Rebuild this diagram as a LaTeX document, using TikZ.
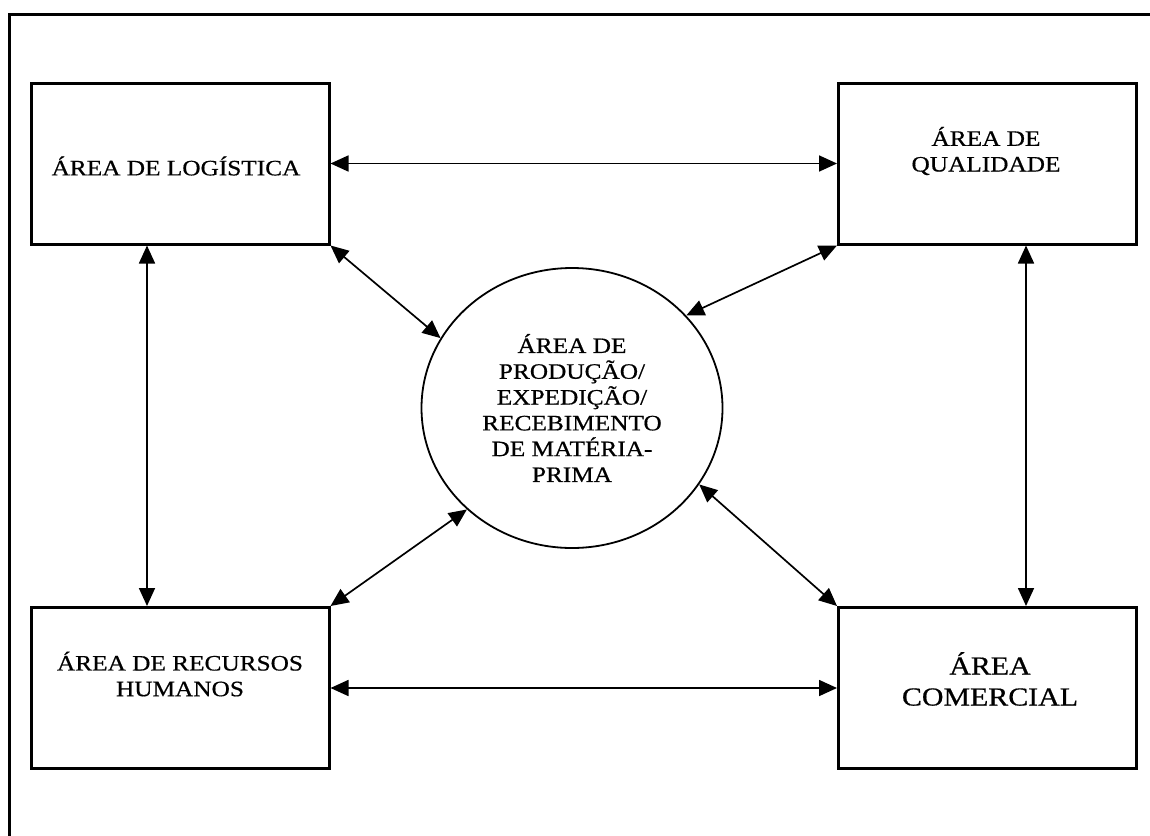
\documentclass[tikz,border=0pt]{standalone}
\usepackage{fontspec}
\usetikzlibrary{arrows.meta,shapes.geometric}
\newfontfamily\labelfont[FakeStretch=1.15,FakeBold=0.6]{Liberation Serif}

\tikzset{
  areabox/.style={draw, line width=3pt, minimum width=298pt, minimum height=161pt, inner sep=0pt},
  areatext/.style={align=center, inner sep=0pt, font=\labelfont\fontsize{22}{25.7}\selectfont},
  link/.style={line width=1.7pt, {Triangle[length=18pt,width=16pt]}-{Triangle[length=18pt,width=16pt]}},
  frameline/.style={line width=3pt}
}

\begin{document}
\begin{tikzpicture}[x=1pt, y=-1pt]
  \useasboundingbox (0,0) rectangle (1150,835);

  % page frame (open to the right and bottom)
  \coordinate (fa) at (9,845);
  \coordinate (fb) at (9,14);
  \coordinate (fc) at (1160,14);
  \draw[frameline] (fa) -- (fb) -- (fc);

  % department boxes
  \node[areabox] (log)  at (180,163.5) {};
  \node[areabox] (qual) at (987.5,163.5) {};
  \node[areabox] (rh)   at (180,688) {};
  \node[areabox] (com)  at (987.5,688) {};

  \node[areatext] (logtxt)  at (176,166) {ÁREA DE LOGÍSTICA};
  \node[areatext] (qualtxt) at (986,151) {ÁREA DE\\QUALIDADE};
  \node[areatext] (rhtxt)   at (180,674) {ÁREA DE RECURSOS\\HUMANOS};
  \node[areatext, font=\labelfont\fontsize{26}{31}\selectfont] (comtxt) at (990,679) {ÁREA\\COMERCIAL};

  % central production area
  \node[draw, ellipse, line width=1.8pt, minimum width=301pt, minimum height=280pt,
        inner sep=0pt, align=center, font=\labelfont\fontsize{22}{25.8}\selectfont]
    (prod) at (572,408)
    {ÁREA DE\\PRODUÇÃO/\\EXPEDIÇÃO/\\RECEBIMENTO\\DE MATÉRIA-\\PRIMA};

  % columns of the vertical links
  \coordinate (lx) at (147,0);
  \coordinate (rx) at (1026,0);

  % links between the areas
  \draw[link] (log.east) -- (qual.west);
  \draw[link] (rh.east) -- (com.west);
  \draw[link] (log.south -| lx) -- (rh.north -| lx);
  \draw[link] (qual.south -| rx) -- (com.north -| rx);

  \draw[link] (log.south east) -- (prod.152);
  \draw[link] (qual.south west) -- (prod.39);
  \draw[link] (rh.north east) -- (prod.224);
  \draw[link] (com.north west) -- (prod.329);
\end{tikzpicture}
\end{document}
